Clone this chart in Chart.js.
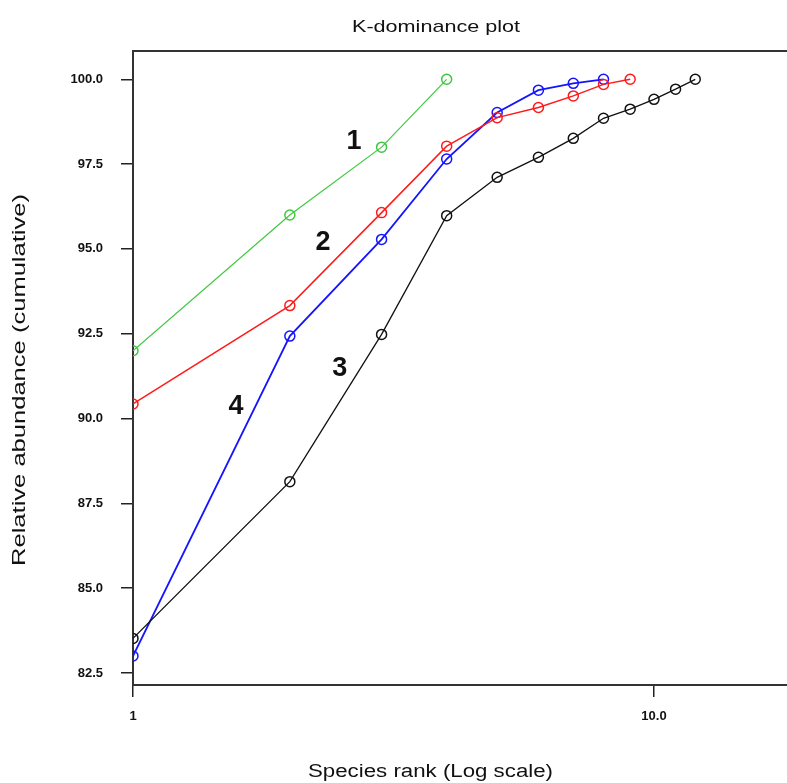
<!DOCTYPE html>
<html>
<head>
<meta charset="utf-8">
<script src="https://cdn.jsdelivr.net/npm/chart.js@4/dist/chart.umd.min.js"></script>
<style>
html,body{margin:0;padding:0;background:#fff;overflow:hidden;}
#wrap{width:787px;height:783px;}
canvas{display:block;}
</style>
</head>
<body>
<div id="wrap"><canvas id="c" width="787" height="783"></canvas></div>
<script>
// ---- data ----
const chartTitle = "K-dominance plot";
const xTitle = "Species rank (Log scale)";
const yTitle = "Relative abundance (cumulative)";
const seriesNames = ["1", "2", "3", "4"];
const series1 = [92.0, 96.0, 98.0, 100.0];
const series2 = [90.43, 93.33, 96.07, 98.03, 98.87, 99.17, 99.51, 99.85, 100.0];
const series3 = [83.52, 88.14, 92.48, 95.98, 97.11, 97.70, 98.26, 98.85, 99.12, 99.41, 99.71, 100.0];
const series4 = [83.0, 92.43, 95.28, 97.65, 99.02, 99.68, 99.88, 100.0];
const yTicks = [82.5, 85.0, 87.5, 90.0, 92.5, 95.0, 97.5, 100.0];
const xTicks = [1, 10];
// label anchor positions (data coords) for the curve numbers
const labelX = [2.655, 2.315, 2.495, 1.576];
const labelY = [98.19, 95.21, 91.49, 90.37];

const colors = ["#3fc83f", "#ff1a1a", "#111111", "#1414ff"];
const widths = [1.2, 1.5, 1.3, 1.8];
const allSeries = [series1, series2, series3, series4];

function toPts(arr){ return arr.map((v,i)=>({x:i+1, y:v})); }

const datasets = allSeries.map((s,i)=>({
  label: seriesNames[i],
  data: toPts(s),
  borderColor: colors[i],
  borderWidth: widths[i],
  pointStyle: 'circle',
  pointRadius: 5,
  pointBorderWidth: 1.5,
  pointBorderColor: colors[i],
  pointBackgroundColor: 'rgba(0,0,0,0)',
  tension: 0,
  fill: false,
  clip: { left: 0, top: 8, right: 8, bottom: 8 }
}));

function drawFitted(ctx, text, cx, cy, targetW, font, rot){
  ctx.save();
  ctx.font = font;
  ctx.fillStyle = '#111';
  ctx.textAlign = 'center';
  ctx.textBaseline = 'middle';
  const w = ctx.measureText(text).width;
  ctx.translate(cx, cy);
  if (rot) ctx.rotate(rot);
  ctx.scale(targetW / w, 1);
  ctx.fillText(text, 0, 0);
  ctx.restore();
}

const textPlugin = {
  id: 'texts',
  afterDraw(chart){
    const ctx = chart.ctx;
    const ca = chart.chartArea;
    // top frame line
    ctx.save();
    ctx.strokeStyle = '#333';
    ctx.lineWidth = 2;
    ctx.beginPath();
    ctx.moveTo(ca.left - 1, ca.top);
    ctx.lineTo(chart.width, ca.top);
    ctx.stroke();
    ctx.restore();
    drawFitted(ctx, chartTitle, 436, 27, 168, '17px "Liberation Sans", Arial, sans-serif', 0);
    drawFitted(ctx, xTitle, 430.5, 772, 245, '18px "Liberation Sans", Arial, sans-serif', 0);
    drawFitted(ctx, yTitle, 20, 380, 372, '19px "Liberation Sans", Arial, sans-serif', -Math.PI/2);
    const xs = chart.scales.x, ys = chart.scales.y;
    ctx.save();
    ctx.font = 'bold 27px "Liberation Sans", Arial, sans-serif';
    ctx.fillStyle = '#111';
    ctx.textAlign = 'center';
    ctx.textBaseline = 'middle';
    seriesNames.forEach((n,i)=>{
      ctx.fillText(n, xs.getPixelForValue(labelX[i]), ys.getPixelForValue(labelY[i]) + 1);
    });
    ctx.restore();
  }
};

new Chart(document.getElementById('c'), {
  type: 'line',
  data: { datasets },
  options: {
    responsive: false,
    animation: false,
    layout: { autoPadding: false, padding: { top: 51, left: 0, right: 0, bottom: 0 } },
    plugins: { legend: { display: false }, title: { display: false }, tooltip: { enabled: false } },
    scales: {
      x: {
        type: 'logarithmic',
        min: 1, max: 18,
        afterBuildTicks: s => { s.ticks = xTicks.map(v=>({value:v})); },
        afterFit: s => { s.height = 98; s.paddingLeft = 0; s.paddingRight = 0; },
        ticks: {
          callback: v => v === 1 ? '1' : Number(v).toFixed(1),
          font: { family: '"Liberation Sans", Arial, sans-serif', size: 13, weight: 'bold' },
          color: '#111',
          padding: 12,
          maxRotation: 0, autoSkip: false
        },
        grid: { display: true, drawOnChartArea: false, drawTicks: true, tickLength: 12, color: '#222', lineWidth: 1.5 },
        border: { display: true, color: '#333', width: 2 }
      },
      y: {
        type: 'linear',
        min: 82.146, max: 100.834,
        afterBuildTicks: s => { s.ticks = yTicks.map(v=>({value:v})); },
        afterFit: s => { s.width = 133; s.paddingTop = 0; s.paddingBottom = 0; },
        ticks: {
          callback: v => Number(v).toFixed(1),
          font: { family: '"Liberation Sans", Arial, sans-serif', size: 13, weight: 'bold' },
          color: '#111',
          padding: 18,
          autoSkip: false
        },
        grid: { display: true, drawOnChartArea: false, drawTicks: true, tickLength: 12, color: '#222', lineWidth: 1.5 },
        border: { display: true, color: '#333', width: 2 }
      }
    }
  },
  plugins: [textPlugin]
});
</script>
</body>
</html>
